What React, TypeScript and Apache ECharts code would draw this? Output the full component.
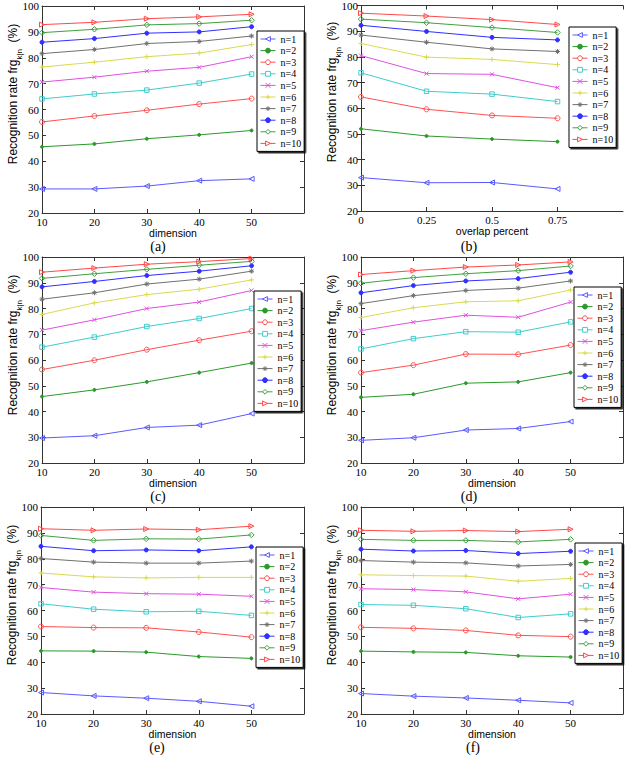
import { useEffect, useRef } from "react";
import * as echarts from "echarts";

const seriesNames = ["n=1", "n=2", "n=3", "n=4", "n=5", "n=6", "n=7", "n=8", "n=9", "n=10"];
const dimensions = [10, 20, 30, 40, 50];
const overlapPercents = [0, 0.25, 0.5, 0.75];

// rows: n=1 .. n=10
const panelA = [
  [29.3, 29.3, 30.4, 32.5, 33.2],
  [45.6, 46.7, 48.7, 50.2, 51.9],
  [55.2, 57.5, 59.7, 62.1, 64.2],
  [64.1, 66.0, 67.5, 70.2, 73.7],
  [70.6, 72.5, 74.8, 76.3, 80.4],
  [76.4, 78.3, 80.4, 81.8, 85.1],
  [81.6, 83.2, 85.5, 86.3, 88.4],
  [86.0, 87.4, 89.5, 90.0, 92.0],
  [89.7, 91.0, 92.7, 93.2, 94.5],
  [92.8, 93.7, 95.1, 95.8, 96.8],
];
const panelB = [
  [33.0, 31.0, 31.1, 28.6],
  [52.0, 49.2, 48.0, 47.0],
  [64.4, 59.6, 57.2, 56.1],
  [73.8, 66.6, 65.5, 62.6],
  [80.5, 73.5, 73.2, 68.0],
  [85.2, 79.9, 79.0, 77.0],
  [88.5, 85.7, 83.1, 82.1],
  [92.3, 89.9, 87.6, 86.6],
  [94.7, 93.3, 91.4, 89.5],
  [97.0, 95.9, 94.5, 92.6],
];
const panelC = [
  [29.7, 30.6, 33.8, 34.7, 39.2],
  [45.8, 48.4, 51.5, 55.1, 58.8],
  [56.3, 59.9, 64.0, 67.7, 71.2],
  [65.0, 68.9, 73.0, 76.1, 80.0],
  [71.6, 75.6, 80.0, 82.5, 87.0],
  [77.7, 82.2, 85.4, 87.5, 91.1],
  [83.6, 86.1, 89.5, 91.4, 94.5],
  [88.4, 90.5, 92.8, 94.5, 96.6],
  [91.7, 93.5, 95.2, 96.8, 98.3],
  [94.1, 95.7, 97.2, 98.2, 99.4],
];
const panelD = [
  [28.8, 29.8, 32.8, 33.4, 36.1],
  [45.5, 46.7, 51.0, 51.5, 55.1],
  [55.1, 58.0, 62.3, 62.2, 65.8],
  [64.3, 68.3, 71.0, 70.8, 74.8],
  [71.4, 74.7, 77.4, 76.6, 82.5],
  [76.5, 80.3, 82.6, 83.0, 87.2],
  [81.9, 85.0, 87.0, 87.9, 90.7],
  [86.1, 88.9, 90.7, 91.6, 94.1],
  [89.8, 92.0, 93.5, 94.7, 96.5],
  [93.2, 94.7, 96.1, 96.9, 98.1],
];
const panelE = [
  [28.3, 27.0, 26.1, 24.9, 23.0],
  [44.4, 44.3, 43.9, 42.2, 41.5],
  [53.8, 53.4, 53.3, 51.7, 49.7],
  [62.6, 60.5, 59.5, 59.7, 58.1],
  [68.9, 67.1, 66.5, 66.3, 65.5],
  [74.5, 73.0, 72.6, 72.8, 72.8],
  [80.1, 78.7, 78.3, 78.3, 79.1],
  [84.8, 83.1, 83.4, 83.1, 84.6],
  [89.0, 87.1, 87.7, 87.6, 89.2],
  [91.6, 91.0, 91.5, 91.2, 92.6],
];
const panelF = [
  [27.9, 26.9, 26.2, 25.3, 24.3],
  [44.3, 44.0, 43.8, 42.5, 42.0],
  [53.5, 53.1, 52.3, 50.4, 49.9],
  [62.3, 62.0, 60.7, 57.3, 58.7],
  [68.4, 68.1, 67.2, 64.5, 66.3],
  [73.8, 73.5, 73.3, 71.3, 72.4],
  [79.3, 78.7, 78.4, 77.2, 77.8],
  [83.7, 83.0, 83.2, 82.0, 82.9],
  [87.5, 87.1, 87.1, 86.5, 87.5],
  [91.0, 90.6, 90.9, 90.5, 91.4],
];

const SERIF = "'Liberation Serif', 'DejaVu Serif', serif";
const SANS = "'Liberation Sans', Arial, sans-serif";

const lineColors = [
  "#5a5aff", "#2a9a2a", "#ff5050", "#40cccc", "#e050e0",
  "#dada50", "#707070", "#3030ff", "#40a040", "#ff4848",
];

// MATLAB-like markers
const markers = [
  { symbol: "path://M10,0 L0,5 L10,10 Z", size: 5, open: true },
  { symbol: "circle", size: 3, open: false },
  { symbol: "circle", size: 5, open: true },
  { symbol: "rect", size: 4.5, open: true },
  { symbol: "path://M0,0 L10,10 M10,0 L0,10", size: 4, open: true },
  { symbol: "path://M5,0 L5,10 M0,5 L10,5", size: 5, open: true },
  { symbol: "path://M5,0 L5,10 M0,5 L10,5 M1.5,1.5 L8.5,8.5 M8.5,1.5 L1.5,8.5", size: 5, open: true },
  { symbol: "circle", size: 4, open: false },
  { symbol: "diamond", size: 5.5, open: true },
  { symbol: "path://M0,0 L10,5 L0,10 Z", size: 5, open: true },
];

interface Panel {
  label: string;
  xName: string;
  xValues: number[];
  rows: number[][];
  xMin: number;
  xMax: number;
  xInterval: number;
  left: number;
  top: number;
  width: number;
  height: number;
  legendLeft: number;
  legendTop: number;
  labelX: number;
  labelY: number;
}

const panels: Panel[] = [
  { label: "(a)", xName: "dimension", xValues: dimensions, rows: panelA, xMin: 10, xMax: 60, xInterval: 10,
    left: 42, top: 6, width: 262, height: 207, legendLeft: 257, legendTop: 31, labelX: 158, labelY: 246 },
  { label: "(b)", xName: "overlap percent", xValues: overlapPercents, rows: panelB, xMin: 0, xMax: 1, xInterval: 0.25,
    left: 361, top: 4, width: 262, height: 207, legendLeft: 569, legendTop: 27, labelX: 469, labelY: 246 },
  { label: "(c)", xName: "dimension", xValues: dimensions, rows: panelC, xMin: 10, xMax: 60, xInterval: 10,
    left: 42, top: 257, width: 262, height: 206, legendLeft: 254, legendTop: 291, labelX: 158, labelY: 496 },
  { label: "(d)", xName: "dimension", xValues: dimensions, rows: panelD, xMin: 10, xMax: 60, xInterval: 10,
    left: 361, top: 257, width: 262, height: 206, legendLeft: 574, legendTop: 287, labelX: 469, labelY: 496 },
  { label: "(e)", xName: "dimension", xValues: dimensions, rows: panelE, xMin: 10, xMax: 60, xInterval: 10,
    left: 41, top: 507, width: 263, height: 207, legendLeft: 256, legendTop: 547, labelX: 157, labelY: 747 },
  { label: "(f)", xName: "dimension", xValues: dimensions, rows: panelF, xMin: 10, xMax: 60, xInterval: 10,
    left: 361, top: 507, width: 262, height: 207, legendLeft: 575, legendTop: 543, labelX: 473, labelY: 747 },
];

function buildOption() {
  const axisLine = { show: true, lineStyle: { color: "#333", width: 1 } };
  const axisTick = { show: true, inside: true, length: 4, lineStyle: { color: "#333" } };
  const tickLabel = { fontFamily: SERIF, fontSize: 11, color: "#000", margin: 3 };

  const grid = panels.map((p) => ({ left: p.left, top: p.top, width: p.width, height: p.height }));

  const xAxis = panels.flatMap((p, i) => [
    {
      type: "value", gridIndex: i, position: "bottom", min: p.xMin, max: p.xMax, interval: p.xInterval,
      axisLine, axisTick, splitLine: { show: false },
      axisLabel: { ...tickLabel, showMaxLabel: false },
      name: p.xName, nameLocation: "middle", nameGap: 10,
      nameTextStyle: { fontFamily: SANS, fontSize: 10.5, color: "#000" },
    },
    {
      type: "value", gridIndex: i, position: "top", min: p.xMin, max: p.xMax, interval: p.xInterval,
      axisLine, axisTick, splitLine: { show: false }, axisLabel: { show: false },
    },
  ]);

  const yAxis = panels.flatMap((_, i) => [
    {
      type: "value", gridIndex: i, position: "left", min: 20, max: 100, interval: 10,
      axisLine, axisTick, splitLine: { show: false }, axisLabel: tickLabel,
    },
    {
      type: "value", gridIndex: i, position: "right", min: 20, max: 100, interval: 10,
      axisLine, axisTick, splitLine: { show: false }, axisLabel: { show: false },
    },
  ]);

  const series = panels.flatMap((p, i) =>
    p.rows.map((row, k) => {
      const color = lineColors[k];
      const m = markers[k];
      return {
        name: seriesNames[k],
        type: "line",
        xAxisIndex: 2 * i,
        yAxisIndex: 2 * i,
        data: p.xValues.map((x, j) => [x, row[j]]),
        symbol: m.symbol,
        symbolSize: m.size,
        symbolKeepAspect: true,
        showSymbol: true,
        lineStyle: { color, width: 1 },
        itemStyle: { color: m.open ? "transparent" : color, borderColor: color, borderWidth: 1 },
        emphasis: { disabled: true },
      };
    })
  );

  const legendData = seriesNames.map((name, k) => ({
    name,
    itemStyle: {
      color: markers[k].open ? "#fff" : lineColors[k],
      borderColor: lineColors[k],
      borderWidth: 1,
    },
    lineStyle: { color: lineColors[k], width: 1 },
  }));

  const legend = panels.map((p) => ({
    data: legendData,
    orient: "vertical",
    left: p.legendLeft,
    top: p.legendTop,
    itemWidth: 15,
    itemHeight: 6,
    itemGap: 1.6,
    padding: [3, 3, 3, 3],
    borderColor: "#000",
    borderWidth: 1,
    backgroundColor: "#fff",
    shadowColor: "rgba(0,0,0,0.85)",
    shadowOffsetX: 1.5,
    shadowOffsetY: 1.5,
    shadowBlur: 0,
    selectedMode: false,
    textStyle: { fontFamily: SERIF, fontSize: 10, lineHeight: 8, color: "#000" },
  }));

  const graphic = panels.flatMap((p) => [
    {
      type: "text",
      x: p.left - 27,
      y: p.top + 88,
      rotation: Math.PI / 2,
      style: {
        text: "{m|Recognition rate frg}{s|k|n}{m|  (%)}",
        align: "center",
        verticalAlign: "middle",
        rich: {
          m: { fontFamily: SANS, fontSize: 12, lineHeight: 16, verticalAlign: "top", fill: "#000" },
          s: { fontFamily: SANS, fontSize: 8, lineHeight: 16, verticalAlign: "bottom", fill: "#000" },
        },
      },
    },
    {
      type: "text",
      x: p.labelX,
      y: p.labelY,
      style: {
        text: p.label,
        font: `14px ${SERIF}`,
        fill: "#000",
        align: "center",
        verticalAlign: "middle",
      },
    },
  ]);

  return {
    animation: false,
    backgroundColor: "#fff",
    grid,
    xAxis,
    yAxis,
    series,
    legend,
    graphic,
  };
}

export default function App() {
  const ref = useRef<HTMLDivElement | null>(null);

  useEffect(() => {
    const el = ref.current;
    if (el === null) return;
    const chart = echarts.init(el, null, { renderer: "svg" });
    chart.setOption(buildOption());
    return () => {
      chart.dispose();
    };
  }, []);

  return (
    <div
      ref={ref}
      style={{ position: "absolute", left: 0, top: 0, width: 640, height: 768, background: "#fff" }}
    />
  );
}
